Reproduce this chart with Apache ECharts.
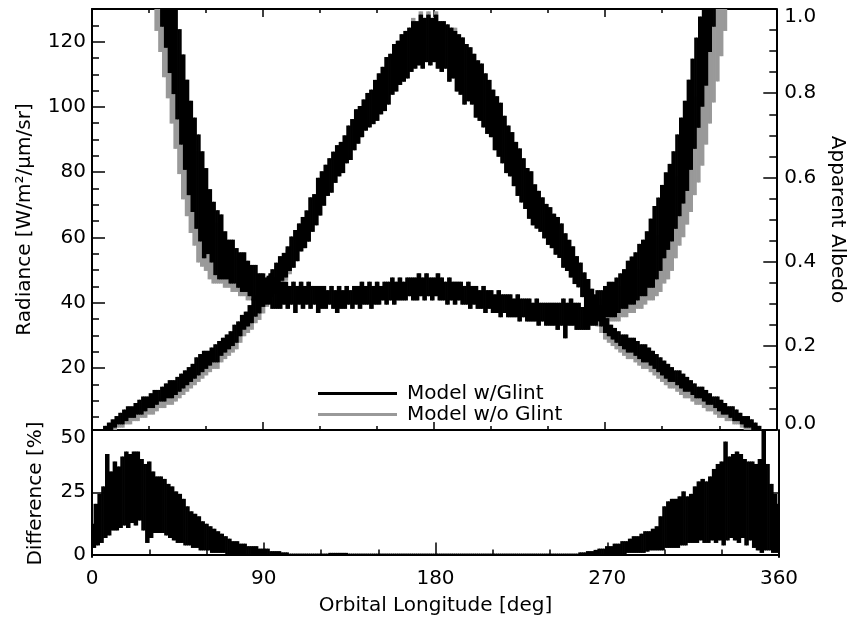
<!DOCTYPE html>
<html>
<head>
<meta charset="utf-8">
<script src="https://cdn.jsdelivr.net/npm/echarts@6/dist/echarts.min.js"></script>
<style>
html,body{margin:0;padding:0;background:#fff;}
#chart{width:855px;height:620px;}
</style>
</head>
<body>
<div id="chart"></div>
<script>
// ---- Data (1 sample per degree of orbital longitude) ----
const LON_STEP = 1;
// Radiance [W/m2/um/sr], model with glint, lon 5..352
const RAD_GLINT_START = 5;
const radGlint = [
1,0,2,0,3,1,4,2,5,3,
6,3,7,4,8,5,8,5,9,6,
10,6,11,7,11,8,12,8,13,9,
13,10,14,10,15,11,16,11,16,12,
17,13,18,14,19,15,20,16,21,17,
23,18,24,19,25,20,25,21,26,22,
27,22,28,24,29,25,30,26,31,27,
33,28,34,30,36,32,37,33,39,34,
41,36,42,37,44,39,46,40,48,42,
50,43,52,45,54,47,55,48,57,50,
60,51,62,53,64,56,66,57,68,59,
72,62,73,64,78,67,80,70,82,73,
84,74,86,77,88,79,89,80,91,83,
94,84,96,87,99,89,100,91,102,93,
104,94,105,95,108,96,110,98,112,99,
115,101,116,104,119,105,120,107,122,108,
123,109,124,111,126,112,126,113,128,112,
127,114,128,113,127,114,128,112,126,111,
126,112,125,108,124,109,123,105,122,104,
121,101,119,102,118,101,116,97,114,96,
113,94,110,92,108,91,105,87,103,85,
101,83,97,80,94,79,92,76,89,73,
87,71,84,69,81,66,80,64,76,63,
74,62,72,60,70,58,69,57,67,55,
66,54,64,51,61,50,59,48,57,46,
54,45,52,42,49,40,47,38,44,36,
41,35,39,33,37,31,35,30,33,29,
32,28,31,27,30,26,30,25,29,25,
29,24,28,23,27,22,27,22,26,21,
25,20,24,19,23,18,22,17,21,16,
20,16,19,15,19,14,18,13,17,13,
16,12,15,11,14,11,14,10,13,9,
12,9,11,8,11,7,10,6,9,6,
8,5,8,4,7,4,6,3,5,2,
5,2,4,1,3,0,2,0
];
// Radiance, model without glint, lon 5..352
const RAD_NOGLINT_START = 5;
const radNoGlint = [
0,0,1,0,2,0,3,1,4,2,
5,2,5,3,6,3,6,4,7,4,
8,5,9,5,9,6,10,6,11,7,
11,8,12,8,13,9,14,9,14,10,
15,11,16,12,17,13,18,14,19,15,
21,16,22,17,23,18,23,19,24,20,
25,20,26,22,27,23,28,24,29,25,
31,26,32,28,34,30,35,31,37,32,
39,34,40,35,42,37,45,39,47,41,
49,42,51,44,53,46,54,47,56,49,
60,51,62,53,64,56,66,57,68,59,
72,62,73,64,78,67,80,70,82,73,
84,74,86,77,88,79,89,80,91,83,
94,84,96,87,99,89,100,91,102,93,
104,94,105,95,108,96,110,98,112,99,
115,101,116,104,119,105,120,107,122,108,
123,109,124,111,127,112,126,113,129,112,
127,114,129,113,127,114,129,112,126,111,
126,112,125,108,124,109,124,105,122,104,
121,101,119,102,118,101,116,97,114,96,
113,94,110,92,108,91,105,87,103,85,
101,83,97,80,94,79,92,76,89,73,
87,71,84,69,81,66,80,64,76,63,
74,62,72,60,70,58,69,57,67,55,
66,54,64,51,61,50,59,48,57,46,
54,45,52,42,49,40,47,38,44,36,
39,33,37,31,35,29,33,28,31,27,
30,26,29,25,28,24,28,23,27,23,
27,22,26,21,25,20,25,20,24,19,
23,18,22,17,21,16,20,15,19,14,
18,14,17,13,17,12,16,11,15,11,
14,10,13,9,12,9,12,8,11,7,
10,7,9,6,9,5,8,5,7,4,
6,4,6,3,5,3,4,2,4,1,
3,1,3,0,2,0,1,0
];
// Apparent albedo, model with glint, lon 36..330
const ALB_GLINT_START = 36;
const albGlint = [
1.23,0.96,1.17,0.91,1.12,0.85,1.06,0.80,1.01,0.74,
0.95,0.68,0.89,0.62,0.83,0.56,0.78,0.52,0.74,0.48,
0.70,0.45,0.66,0.41,0.62,0.42,0.57,0.40,0.54,0.37,
0.52,0.36,0.51,0.36,0.47,0.36,0.45,0.35,0.45,0.35,
0.43,0.34,0.42,0.33,0.42,0.33,0.40,0.32,0.39,0.31,
0.39,0.31,0.37,0.30,0.37,0.30,0.36,0.30,0.37,0.29,
0.36,0.29,0.36,0.29,0.35,0.30,0.35,0.29,0.34,0.30,
0.35,0.28,0.34,0.30,0.35,0.29,0.34,0.30,0.35,0.29,
0.34,0.30,0.34,0.28,0.34,0.29,0.34,0.29,0.33,0.30,
0.34,0.29,0.33,0.28,0.34,0.29,0.33,0.29,0.34,0.30,
0.33,0.29,0.34,0.30,0.34,0.29,0.35,0.30,0.34,0.30,
0.35,0.29,0.34,0.30,0.35,0.30,0.34,0.31,0.35,0.30,
0.35,0.31,0.36,0.30,0.35,0.31,0.36,0.31,0.35,0.31,
0.36,0.32,0.36,0.31,0.36,0.31,0.37,0.32,0.36,0.31,
0.37,0.32,0.36,0.31,0.36,0.32,0.37,0.31,0.36,0.31,
0.35,0.30,0.36,0.31,0.35,0.30,0.35,0.31,0.35,0.30,
0.34,0.30,0.35,0.29,0.34,0.30,0.34,0.29,0.33,0.29,
0.34,0.28,0.33,0.29,0.33,0.28,0.32,0.28,0.33,0.27,
0.32,0.28,0.32,0.27,0.32,0.27,0.31,0.27,0.32,0.26,
0.31,0.27,0.31,0.26,0.31,0.26,0.30,0.26,0.31,0.25,
0.30,0.26,0.30,0.25,0.30,0.25,0.30,0.25,0.30,0.24,
0.30,0.25,0.31,0.22,0.30,0.25,0.31,0.25,0.30,0.24,
0.30,0.24,0.29,0.24,0.30,0.24,0.31,0.25,0.32,0.25,
0.33,0.26,0.33,0.26,0.34,0.27,0.35,0.27,0.35,0.27,
0.36,0.28,0.37,0.29,0.38,0.29,0.40,0.30,0.41,0.30,
0.42,0.31,0.44,0.32,0.45,0.32,0.47,0.34,0.50,0.34,
0.53,0.36,0.55,0.38,0.58,0.41,0.61,0.43,0.63,0.45,
0.66,0.48,0.70,0.51,0.74,0.54,0.78,0.57,0.83,0.62,
0.88,0.67,0.93,0.72,0.98,0.77,1.05,0.82,1.12,0.90,
1.17,0.96,1.22,1.02,1.30
];
// Apparent albedo, model without glint, lon 31..334
const ALB_NOGLINT_START = 31;
const albNoGlint = [
1.30,1.01,1.24,0.95,1.18,0.90,1.13,0.84,1.07,0.79,
1.02,0.73,0.96,0.67,0.90,0.61,0.84,0.55,0.79,0.51,
0.75,0.47,0.70,0.44,0.66,0.40,0.61,0.39,0.58,0.38,
0.54,0.36,0.51,0.35,0.49,0.35,0.46,0.35,0.45,0.34,
0.43,0.34,0.43,0.33,0.41,0.33,0.40,0.32,0.40,0.32,
0.39,0.31,0.38,0.31,0.38,0.30,0.37,0.30,0.37,0.30,
0.30,0.36,0.30,0.37,0.29,
0.36,0.29,0.36,0.29,0.35,0.30,0.35,0.29,0.34,0.30,
0.35,0.28,0.34,0.30,0.35,0.29,0.34,0.30,0.35,0.29,
0.34,0.30,0.34,0.28,0.34,0.29,0.34,0.29,0.33,0.30,
0.34,0.29,0.33,0.28,0.34,0.29,0.33,0.29,0.34,0.30,
0.33,0.29,0.34,0.30,0.34,0.29,0.35,0.30,0.34,0.30,
0.35,0.29,0.34,0.30,0.35,0.30,0.34,0.31,0.35,0.30,
0.35,0.31,0.36,0.30,0.35,0.31,0.36,0.31,0.35,0.31,
0.36,0.32,0.36,0.31,0.36,0.31,0.37,0.32,0.36,0.31,
0.37,0.32,0.36,0.31,0.36,0.32,0.37,0.31,0.36,0.31,
0.35,0.30,0.36,0.31,0.35,0.30,0.35,0.31,0.35,0.30,
0.34,0.30,0.35,0.29,0.34,0.30,0.34,0.29,0.33,0.29,
0.34,0.28,0.33,0.29,0.33,0.28,0.32,0.28,0.33,0.27,
0.32,0.28,0.32,0.27,0.32,0.27,0.31,0.27,0.32,0.26,
0.31,0.27,0.31,0.26,0.31,0.26,0.30,0.26,0.31,0.25,
0.30,0.26,0.30,0.25,0.30,0.25,0.30,0.25,0.30,0.24,
0.30,0.25,0.31,0.22,0.30,0.25,0.31,0.25,0.30,0.24,
0.30,0.24,0.29,0.24,0.30,0.24,0.31,0.25,0.32,0.25,
0.31,0.25,0.31,0.25,0.32,0.25,0.32,0.26,0.33,0.26,
0.33,0.26,0.34,0.27,0.34,0.27,0.35,0.28,0.36,0.28,
0.37,0.29,0.38,0.29,0.40,0.30,0.41,0.31,0.42,0.31,
0.44,0.32,0.46,0.33,0.48,0.35,0.51,0.36,0.54,0.38,
0.57,0.41,0.60,0.44,0.63,0.46,0.66,0.49,0.70,0.52,
0.74,0.56,0.79,0.59,0.84,0.63,0.89,0.68,0.94,0.73,
0.98,0.78,1.03,0.83,1.08,0.89,1.14,0.95,1.20
];
// Difference [%], lon 0..360
const DIFF_START = 0;
const diffPct = [
12,3,20,4,24,5,27,7,40,8,
33,10,37,10,35,11,39,12,41,11,
40,13,41,12,41,14,38,10,36,5,
37,7,33,9,31,9,31,9,30,8,
28,7,27,6,25,5,24,5,22,4,
19,4,17,3,16,3,15,2,13,2,
12,2,11,1,10,1,9,1,8,1,
7,0,6,0,5,0,5,0,4,0,
4,0,3,0,3,0,3,0,2,0,
2,0,2,0,1,0,1,0,1,0,
0.5,0,0.5,0,0,0,0,0,0,0,
0,0,0,0,0,0,0,0,0,0,
0,0,0,0,0,0.3,0,0.3,0,0.3,
0,0.3,0,0.3,0,0,0,0,0,0,
0,0,0,0,0,0,0,0,0,0,
0,0,0,0,0,0,0,0,0,0,
0,0,0,0,0,0,0,0,0,0,
0,0,0,0,0,0,0,0,0,0,
0,0,0,0,0,0,0,0,0,0,
0,0,0,0,0,0,0,0,0,0,
0,0,0,0,0,0,0,0,0,0,
0,0,0,0,0,0,0,0,0,0,
0,0,0,0,0,0,0,0,0,0,
0,0,0,0,0,0,0,0,0,0,
0,0,0,0,0,0,0,0,0,0,
0,0,0,0,0,0,0.5,0,0.5,0,
1,0,1,0,1.5,0,2,0,2,0,
3,0,3,0,4,0,4,0.5,5,0.5,
5,1,6,1,7,1,7,1,8,1,
9,1.5,9,2,10,2,11,2,15,2,
19,3,21,3,22,3,22,3,23,4,
25,4,23,5,24,5,27,5,29,6,
30,5,29,5,31,6,34,5,36,6,
37,4,45,6,39,7,40,6,41,5,
40,7,38,4,37,6,37,3,36,2,
38,1,52,2,36,2,28,1,24,1,
20
];
// Tick labels
const lonTicks = [0, 90, 180, 270, 360];
const radMajorTicks = [20, 40, 60, 80, 100, 120];
const radMinorTicks = [5, 10, 15, 25, 30, 35, 45, 50, 55, 65, 70, 75, 85, 90, 95, 105, 110, 115, 125];
const diffTicks = [0, 25, 50];
const legendNames = ['Model w/Glint', 'Model w/o Glint'];

// ---- Chart ----
const FONT = 'DejaVu Sans';
const axisLine = { show: true, lineStyle: { color: '#000', width: 2 } };
const txt = { color: '#000', fontSize: 20, fontFamily: FONT };
const tickStyle = { color: '#000', width: 1.5 };

// A noisy trace: between consecutive samples, the library's scales map both
// readings to pixels and the vertical span between them is filled.
function noisyTrace(name, xi, yi, color, values, start) {
  const data = [];
  for (let i = 0; i < values.length - 1; i++) {
    data.push([start + i * LON_STEP, values[i], values[i + 1]]);
  }
  return {
    name, type: 'custom', xAxisIndex: xi, yAxisIndex: yi,
    itemStyle: { color }, silent: true,
    encode: { x: 0, y: [1, 2] },
    data,
    renderItem: (params, api) => {
      const lon = api.value(0);
      const p0 = api.coord([lon, api.value(1)]);
      const p1 = api.coord([lon + LON_STEP, api.value(2)]);
      const top = Math.min(p0[1], p1[1]) - 0.9;
      const bot = Math.max(p0[1], p1[1]) + 0.9;
      const cs = params.coordSys;
      const shape = echarts.graphic.clipRectByRect(
        { x: p0[0] - 0.35, y: top, width: p1[0] - p0[0] + 0.7, height: bot - top },
        { x: cs.x, y: cs.y, width: cs.width, height: cs.height }
      );
      if (!shape) return null;
      return { type: 'rect', shape, style: { fill: color } };
    }
  };
}

const chart = echarts.init(document.getElementById('chart'), null, { renderer: 'canvas' });
const option = {
  animation: false,
  backgroundColor: '#fff',
  textStyle: { fontFamily: FONT },
  grid: [
    { left: 92, top: 9, width: 687, height: 421 },
    { left: 92, top: 430, width: 687, height: 127 }
  ],
  legend: {
    data: legendNames,
    orient: 'vertical',
    left: 313, top: 378,
    itemWidth: 79, itemHeight: 3, itemGap: 0,
    icon: 'rect',
    selectedMode: false,
    textStyle: Object.assign({}, txt, { lineHeight: 21, padding: [0, 0, 0, 5] })
  },
  xAxis: [
    { gridIndex: 0, type: 'value', position: 'bottom', min: 0, max: 360, interval: 90,
      axisLine, axisLabel: { show: false }, splitLine: { show: false },
      axisTick: { show: true, inside: true, length: 8, lineStyle: tickStyle },
      minorTick: { show: true, splitNumber: 3, length: 4, lineStyle: tickStyle } },
    { gridIndex: 0, type: 'value', position: 'top', min: 0, max: 360, interval: 90,
      axisLine, axisLabel: { show: false }, splitLine: { show: false },
      axisTick: { show: true, inside: true, length: 8, lineStyle: tickStyle },
      minorTick: { show: true, splitNumber: 3, length: 4, lineStyle: tickStyle } },
    { gridIndex: 1, type: 'value', position: 'bottom', min: 0, max: 360, interval: 90,
      axisLine, splitLine: { show: false },
      axisLabel: Object.assign({ margin: 12, customValues: lonTicks }, txt),
      axisTick: { show: true, inside: true, length: 12, lineStyle: tickStyle },
      minorTick: { show: true, splitNumber: 3, length: 5, lineStyle: tickStyle },
      name: 'Orbital Longitude [deg]', nameLocation: 'middle', nameGap: 39,
      nameTextStyle: txt }
  ],
  yAxis: [
    { gridIndex: 0, type: 'value', position: 'left', min: 1, max: 130,
      axisLine, splitLine: { show: false },
      axisLabel: Object.assign({ margin: 6, customValues: radMajorTicks }, txt),
      axisTick: { show: true, inside: true, length: 13, customValues: radMajorTicks, lineStyle: tickStyle },
      name: 'Radiance [W/m²/μm/sr]', nameLocation: 'middle', nameRotate: 90, nameGap: 57,
      nameTextStyle: txt },
    { gridIndex: 0, type: 'value', position: 'left', min: 1, max: 130,
      axisLine: { show: false }, splitLine: { show: false }, axisLabel: { show: false },
      axisTick: { show: true, inside: true, length: 7, customValues: radMinorTicks, lineStyle: tickStyle } },
    { gridIndex: 0, type: 'value', position: 'right', min: 0, max: 1, interval: 0.2,
      axisLine, splitLine: { show: false },
      axisLabel: Object.assign({
        margin: 8,
        formatter: v => v === 1 ? '{top|1.0}' : (v === 0 ? '{bot|0.0}' : v.toFixed(1)),
        rich: {
          top: Object.assign({ padding: [16, 0, 0, 0] }, txt),
          bot: Object.assign({ padding: [0, 0, 13, 0] }, txt)
        }
      }, txt),
      axisTick: { show: true, inside: true, length: 13, lineStyle: tickStyle },
      minorTick: { show: true, splitNumber: 4, length: 7, lineStyle: tickStyle },
      name: 'Apparent Albedo', nameLocation: 'middle', nameRotate: -90, nameGap: 50,
      nameTextStyle: txt },
    { gridIndex: 1, type: 'value', position: 'left', min: -1, max: 50,
      axisLine, splitLine: { show: false },
      axisLabel: Object.assign({
        margin: 6, customValues: diffTicks,
        formatter: v => v === 50 ? '{top|50}' : String(v),
        rich: { top: Object.assign({ padding: [15, 0, 0, 0] }, txt) }
      }, txt),
      axisTick: { show: true, inside: true, length: 14, customValues: diffTicks, lineStyle: tickStyle },
      name: 'Difference [%]', nameLocation: 'middle', nameRotate: 90, nameGap: 46,
      nameTextStyle: txt },
    { gridIndex: 1, type: 'value', position: 'right', min: -1, max: 50,
      axisLine, splitLine: { show: false }, axisLabel: { show: false },
      axisTick: { show: true, inside: true, length: 9, customValues: [25], lineStyle: tickStyle } }
  ],
  series: [
    noisyTrace('Model w/o Glint', 0, 0, '#999999', radNoGlint, RAD_NOGLINT_START),
    noisyTrace('Model w/o Glint', 0, 2, '#999999', albNoGlint, ALB_NOGLINT_START),
    noisyTrace('Model w/Glint', 0, 0, '#000000', radGlint, RAD_GLINT_START),
    noisyTrace('Model w/Glint', 0, 2, '#000000', albGlint, ALB_GLINT_START),
    noisyTrace('Difference', 2, 3, '#000000', diffPct, DIFF_START)
  ]
};
chart.setOption(option);
</script>
</body>
</html>
